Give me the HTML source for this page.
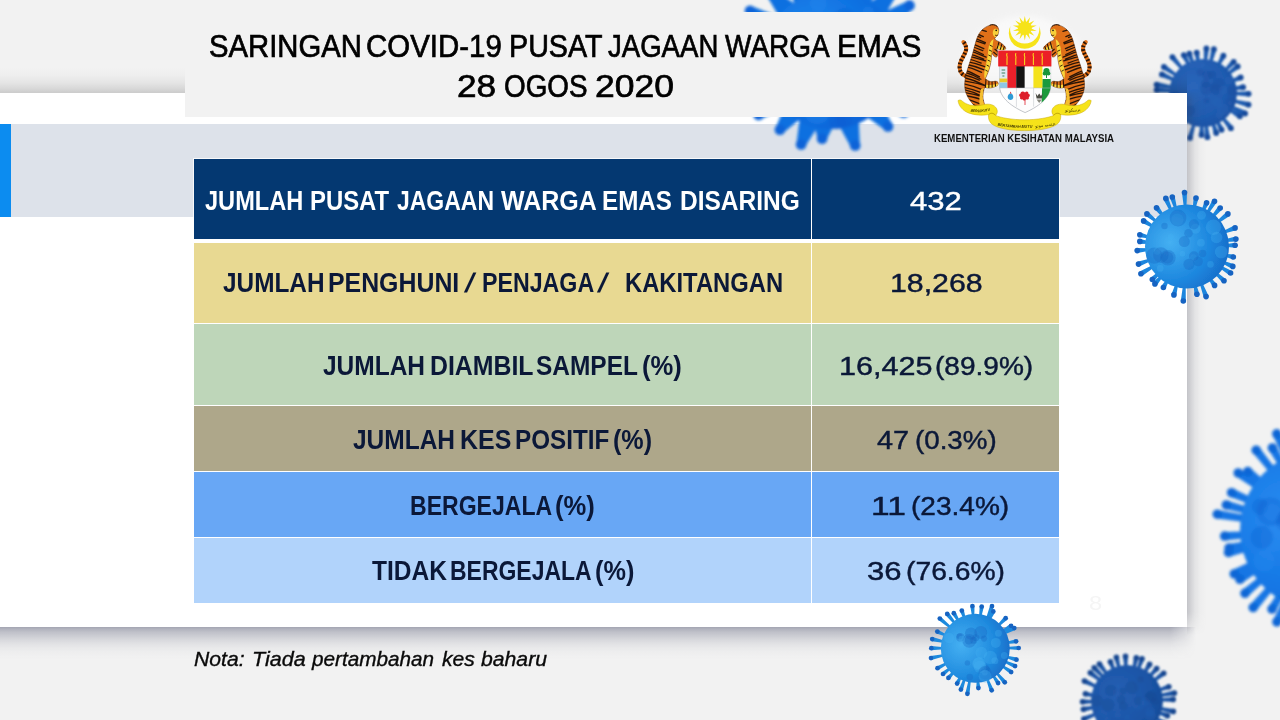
<!DOCTYPE html>
<html lang="ms">
<head>
<meta charset="utf-8">
<title>Saringan COVID-19 Pusat Jagaan Warga Emas - 28 Ogos 2020</title>
<style>
*{box-sizing:border-box}
html,body{margin:0;padding:0}
body{width:1280px;height:720px;overflow:hidden;background:#f2f2f2;font-family:'Liberation Sans', sans-serif;position:relative}
.abs{position:absolute}
.t{position:absolute;white-space:pre;line-height:1;transform-origin:0 50%;display:block}
#card{left:-30px;top:93px;width:1217px;height:534px;background:#fff;z-index:2}
#shT{left:0;top:67px;width:1187px;height:26px;z-index:2;background:linear-gradient(to top,rgba(0,0,0,.16) 0,rgba(0,0,0,.10) 5px,rgba(0,0,0,.05) 11px,rgba(0,0,0,.017) 18px,rgba(0,0,0,0) 26px)}
#shB{left:0;top:627px;width:1200px;height:33px;z-index:2;background:linear-gradient(to bottom,rgba(72,76,104,.47) 0,rgba(72,76,104,.38) 2px,rgba(72,76,104,.30) 5px,rgba(72,76,104,.20) 10px,rgba(72,76,104,.12) 15px,rgba(72,76,104,.06) 20px,rgba(72,76,104,.018) 26px,rgba(72,76,104,0) 33px);-webkit-mask-image:linear-gradient(to right,#000 0,#000 1170px,rgba(0,0,0,.55) 1184px,transparent 1196px);mask-image:linear-gradient(to right,#000 0,#000 1170px,rgba(0,0,0,.55) 1184px,transparent 1196px)}
#shR{left:1187px;top:90px;width:19px;height:545px;z-index:2;background:linear-gradient(to right,rgba(60,62,80,.26) 0,rgba(60,62,80,.17) 4px,rgba(60,62,80,.08) 8px,rgba(60,62,80,.027) 13px,rgba(60,62,80,0) 19px);-webkit-mask-image:linear-gradient(to bottom,transparent 0,#000 10px,#000 522px,rgba(0,0,0,.5) 535px,transparent 545px);mask-image:linear-gradient(to bottom,transparent 0,#000 10px,#000 522px,rgba(0,0,0,.5) 535px,transparent 545px)}
#band{left:0;top:124px;width:1187px;height:93px;background:#dde2ea;z-index:3}
#bar{left:0;top:124px;width:11px;height:93px;background:#0c8cf0;z-index:4}
#title{left:185px;top:12px;width:762px;height:105px;background:#f2f2f2;z-index:6}
#tbl{left:194px;top:159px;width:865px;height:444px;z-index:7;background:#fff;box-shadow:0 0 0 1px rgba(255,255,255,.75)}
.row{position:absolute;left:0;width:865px}
.c1,.c2{position:absolute;top:0;height:100%}
.c1{left:0;width:617px}
.c2{left:618px;width:247px}
#txt{left:0;top:0;width:1280px;height:720px;z-index:9}
</style>
</head>
<body>
<svg class="abs" style="left:0;top:0;z-index:1" width="1280" height="720" viewBox="0 0 1280 720" aria-hidden="true"><defs><radialGradient id="gb" cx="0.36" cy="0.4" r="0.8"><stop offset="0" stop-color="#2a66ba"/><stop offset="0.6" stop-color="#1f5bb0"/><stop offset="1" stop-color="#184c9c"/></radialGradient><filter id="blb" x="-20%" y="-20%" width="140%" height="140%"><feGaussianBlur stdDeviation="1.0"/></filter></defs><g filter="url(#blb)">
<path d="M1233.6 92.1L1248.6 91.2L1248.5 96.4L1233.6 95.0ZM1233.0 99.2L1249.2 102.1L1247.9 107.2L1232.3 102.0ZM1231.1 105.1L1246.3 111.1L1244.0 115.8L1229.9 107.7ZM1229.6 108.1L1241.3 114.1L1238.5 118.5L1228.1 110.5ZM1223.1 116.1L1233.0 126.6L1228.9 129.8L1220.9 117.9ZM1218.1 119.7L1223.9 128.6L1219.2 130.9L1215.5 121.0ZM1213.9 121.6L1218.7 132.2L1213.7 133.8L1211.2 122.5ZM1207.4 123.3L1210.0 136.9L1204.8 137.5L1204.6 123.6ZM1203.3 123.6L1204.1 135.0L1198.9 134.8L1200.4 123.5ZM1195.8 122.8L1192.4 138.7L1187.4 137.2L1193.1 122.0ZM1187.9 119.7L1183.1 129.5L1178.7 126.8L1185.5 118.2ZM1182.6 115.9L1175.9 124.4L1172.2 120.8L1180.6 113.9ZM1178.8 111.7L1170.7 118.8L1167.7 114.6L1177.1 109.4ZM1176.6 108.6L1163.2 117.1L1160.7 112.5L1175.3 106.1ZM1173.7 102.0L1163.0 105.9L1161.8 100.8L1173.0 99.2ZM1172.4 92.4L1156.4 92.5L1156.8 87.3L1172.6 89.5ZM1172.6 88.9L1156.2 87.1L1157.1 82.0L1173.2 86.1ZM1174.5 81.7L1160.8 76.8L1162.9 72.0L1175.7 79.1ZM1176.7 77.2L1162.4 69.1L1165.3 64.8L1178.3 74.9ZM1182.0 70.7L1170.4 58.8L1174.4 55.4L1184.2 68.8ZM1187.9 66.3L1181.5 56.3L1186.1 53.9L1190.5 65.1ZM1191.6 64.6L1186.9 54.6L1191.8 52.9L1194.3 63.6ZM1196.9 63.0L1194.2 53.0L1199.3 52.2L1199.7 62.5ZM1203.9 62.4L1203.8 48.3L1209.0 48.7L1206.8 62.6ZM1209.0 63.0L1211.4 48.6L1216.5 49.8L1211.8 63.7ZM1216.4 65.5L1221.2 54.4L1225.7 56.9L1219.0 66.8ZM1223.4 70.2L1231.8 60.0L1235.6 63.6L1225.5 72.2ZM1226.4 73.2L1236.2 64.3L1239.3 68.4L1228.2 75.5ZM1230.8 80.0L1239.7 75.1L1241.7 79.9L1231.8 82.7ZM1233.1 87.2L1242.8 84.6L1243.5 89.8L1233.5 90.1Z" fill="#1f5bb0"/>
<g fill="#184c9c"><circle cx="1248.6" cy="93.8" r="2.91"/><circle cx="1248.5" cy="104.7" r="2.91"/><circle cx="1245.1" cy="113.5" r="2.91"/><circle cx="1239.9" cy="116.3" r="2.91"/><circle cx="1230.9" cy="128.2" r="2.91"/><circle cx="1221.6" cy="129.8" r="2.91"/><circle cx="1216.2" cy="133.0" r="2.91"/><circle cx="1207.4" cy="137.2" r="2.91"/><circle cx="1201.5" cy="134.9" r="2.91"/><circle cx="1189.9" cy="137.9" r="2.91"/><circle cx="1180.9" cy="128.2" r="2.91"/><circle cx="1174.1" cy="122.6" r="2.91"/><circle cx="1169.2" cy="116.7" r="2.91"/><circle cx="1161.9" cy="114.8" r="2.91"/><circle cx="1162.4" cy="103.4" r="2.91"/><circle cx="1156.6" cy="89.9" r="2.91"/><circle cx="1156.6" cy="84.6" r="2.91"/><circle cx="1161.9" cy="74.4" r="2.91"/><circle cx="1163.9" cy="67.0" r="2.91"/><circle cx="1172.4" cy="57.1" r="2.91"/><circle cx="1183.8" cy="55.1" r="2.91"/><circle cx="1189.4" cy="53.7" r="2.91"/><circle cx="1196.7" cy="52.6" r="2.91"/><circle cx="1206.4" cy="48.5" r="2.91"/><circle cx="1213.9" cy="49.2" r="2.91"/><circle cx="1223.4" cy="55.7" r="2.91"/><circle cx="1233.7" cy="61.8" r="2.91"/><circle cx="1237.7" cy="66.4" r="2.91"/><circle cx="1240.7" cy="77.5" r="2.91"/><circle cx="1243.1" cy="87.2" r="2.91"/></g>
<circle cx="1203" cy="93" r="34" fill="url(#gb)"/>
<circle cx="1203.0" cy="65.4" r="2.5" fill="#2a66ba" opacity="0.32"/><circle cx="1207.3" cy="75.3" r="4.9" fill="#184c9c" opacity="0.32"/><circle cx="1209.5" cy="93.4" r="3.2" fill="#2a66ba" opacity="0.32"/><circle cx="1215.8" cy="89.3" r="5.7" fill="#184c9c" opacity="0.32"/><circle cx="1229.3" cy="80.5" r="3.9" fill="#2a66ba" opacity="0.32"/><circle cx="1189.7" cy="110.2" r="5.8" fill="#184c9c" opacity="0.32"/><circle cx="1223.2" cy="109.3" r="5.9" fill="#2a66ba" opacity="0.32"/><circle cx="1206.7" cy="88.6" r="6.6" fill="#184c9c" opacity="0.32"/><circle cx="1217.7" cy="102.5" r="5.1" fill="#2a66ba" opacity="0.32"/><circle cx="1218.2" cy="84.4" r="6.5" fill="#184c9c" opacity="0.32"/><circle cx="1186.9" cy="88.3" r="3.8" fill="#2a66ba" opacity="0.32"/><circle cx="1206.7" cy="100.5" r="3.0" fill="#184c9c" opacity="0.32"/><circle cx="1191.8" cy="65.2" r="3.1" fill="#2a66ba" opacity="0.32"/><circle cx="1231.5" cy="102.0" r="4.7" fill="#184c9c" opacity="0.32"/><circle cx="1190.9" cy="101.2" r="5.0" fill="#2a66ba" opacity="0.32"/><circle cx="1212.3" cy="75.0" r="4.2" fill="#184c9c" opacity="0.32"/><circle cx="1230.0" cy="102.9" r="2.5" fill="#2a66ba" opacity="0.32"/><circle cx="1175.5" cy="94.1" r="3.0" fill="#184c9c" opacity="0.32"/><circle cx="1199.6" cy="63.9" r="5.2" fill="#2a66ba" opacity="0.32"/><circle cx="1205.3" cy="83.5" r="4.3" fill="#184c9c" opacity="0.32"/><circle cx="1219.3" cy="115.3" r="3.7" fill="#2a66ba" opacity="0.32"/><circle cx="1174.3" cy="101.7" r="6.1" fill="#184c9c" opacity="0.32"/><circle cx="1223.0" cy="90.0" r="4.5" fill="#2a66ba" opacity="0.32"/><circle cx="1200.3" cy="72.4" r="3.7" fill="#184c9c" opacity="0.32"/><circle cx="1193.5" cy="99.5" r="4.0" fill="#2a66ba" opacity="0.32"/><circle cx="1232.3" cy="90.9" r="5.2" fill="#184c9c" opacity="0.32"/>
</g></svg>
<div id="shT" class="abs"></div><div id="shB" class="abs"></div><div id="shR" class="abs"></div>
<div id="card" class="abs"></div>
<div id="band" class="abs"></div>
<div id="bar" class="abs"></div>
<svg class="abs" style="left:0;top:0;z-index:5" width="1280" height="720" viewBox="0 0 1280 720" aria-hidden="true"><defs><radialGradient id="ga" cx="0.36" cy="0.4" r="0.8"><stop offset="0" stop-color="#2a8cf0"/><stop offset="0.6" stop-color="#0b6fe0"/><stop offset="1" stop-color="#0a5ad0"/></radialGradient><filter id="bla" x="-20%" y="-20%" width="140%" height="140%"><feGaussianBlur stdDeviation="1.8"/></filter><radialGradient id="gd" cx="0.3" cy="0.4" r="0.8"><stop offset="0" stop-color="#2a8cf0"/><stop offset="0.6" stop-color="#1276e4"/><stop offset="1" stop-color="#0b5ccc"/></radialGradient><filter id="bld" x="-20%" y="-20%" width="140%" height="140%"><feGaussianBlur stdDeviation="1.7"/></filter><radialGradient id="gf" cx="0.36" cy="0.4" r="0.8"><stop offset="0" stop-color="#2660b4"/><stop offset="0.6" stop-color="#1a54a6"/><stop offset="1" stop-color="#154690"/></radialGradient><filter id="blf" x="-20%" y="-20%" width="140%" height="140%"><feGaussianBlur stdDeviation="0.8"/></filter></defs><g filter="url(#bla)">
<path d="M880.1 100.2L891.7 123.4L884.4 129.5L863.4 114.4ZM858.6 116.9L859.8 144.2L850.6 146.7L837.6 122.8ZM835.0 123.0L826.8 139.3L817.4 138.1L813.3 120.4ZM820.7 122.1L805.5 146.1L796.6 142.9L800.2 114.7ZM803.3 116.4L783.7 132.6L776.1 126.9L785.8 103.4ZM788.5 106.1L761.5 118.7L755.8 111.1L775.3 88.6ZM776.9 91.5L747.4 95.7L744.1 86.7L769.4 71.0ZM769.8 73.1L738.5 68.0L738.1 58.5L769.1 51.2ZM768.7 54.5L741.2 40.7L743.6 31.5L774.3 33.4ZM772.7 37.2L747.6 14.7L752.5 6.6L784.0 18.5ZM781.8 21.2L765.6 -6.1L772.6 -12.5L798.1 6.5ZM795.4 8.3L787.8 -22.5L796.4 -26.5L815.2 -0.9ZM812.0 0.0L813.8 -31.7L823.2 -33.0L833.7 -3.0ZM831.5 -3.1L843.0 -32.7L852.4 -31.0L853.0 0.7ZM850.0 -0.3L869.6 -25.2L878.1 -20.9L869.4 9.6ZM864.9 6.5L890.4 -12.5L897.4 -6.1L881.2 21.2ZM876.1 15.4L906.8 1.5L912.2 9.3L888.6 33.3ZM885.0 26.6L917.1 20.3L920.7 29.1L893.2 46.9ZM891.5 40.5L922.2 42.5L923.5 51.9L894.5 62.2ZM894.5 57.8L923.5 68.1L922.2 77.5L891.5 79.5ZM892.7 75.3L916.8 92.8L912.9 101.5L883.8 95.2ZM888.2 87.7L906.5 108.6L900.9 116.3L875.3 105.3Z" fill="#0b6fe0"/>
<g fill="#0b63d8"><circle cx="888.0" cy="126.4" r="5.32"/><circle cx="855.2" cy="145.4" r="5.32"/><circle cx="822.1" cy="138.7" r="5.32"/><circle cx="801.1" cy="144.5" r="5.32"/><circle cx="779.9" cy="129.7" r="5.32"/><circle cx="758.6" cy="114.9" r="5.32"/><circle cx="745.8" cy="91.2" r="5.32"/><circle cx="738.3" cy="63.3" r="5.32"/><circle cx="742.4" cy="36.1" r="5.32"/><circle cx="750.0" cy="10.7" r="5.32"/><circle cx="769.1" cy="-9.3" r="5.32"/><circle cx="792.1" cy="-24.5" r="5.32"/><circle cx="818.5" cy="-32.3" r="5.32"/><circle cx="847.7" cy="-31.8" r="5.32"/><circle cx="873.8" cy="-23.1" r="5.32"/><circle cx="893.9" cy="-9.3" r="5.32"/><circle cx="909.5" cy="5.4" r="5.32"/><circle cx="918.9" cy="24.7" r="5.32"/><circle cx="922.9" cy="47.2" r="5.32"/><circle cx="922.9" cy="72.8" r="5.32"/><circle cx="914.9" cy="97.1" r="5.32"/><circle cx="903.7" cy="112.5" r="5.32"/></g>
<circle cx="831.5" cy="60" r="69" fill="url(#ga)"/>
<circle cx="834.9" cy="104.8" r="8.1" fill="#2a8cf0" opacity="0.32"/><circle cx="793.2" cy="30.7" r="5.4" fill="#0a5ad0" opacity="0.32"/><circle cx="887.1" cy="64.6" r="7.2" fill="#2a8cf0" opacity="0.32"/><circle cx="837.5" cy="120.5" r="9.0" fill="#0a5ad0" opacity="0.32"/><circle cx="853.2" cy="24.0" r="10.6" fill="#2a8cf0" opacity="0.32"/><circle cx="859.9" cy="99.4" r="12.6" fill="#0a5ad0" opacity="0.32"/><circle cx="779.6" cy="52.4" r="10.9" fill="#2a8cf0" opacity="0.32"/><circle cx="880.3" cy="80.8" r="10.1" fill="#0a5ad0" opacity="0.32"/><circle cx="828.1" cy="70.2" r="12.6" fill="#2a8cf0" opacity="0.32"/><circle cx="780.6" cy="68.8" r="12.7" fill="#0a5ad0" opacity="0.32"/><circle cx="818.4" cy="3.0" r="8.4" fill="#2a8cf0" opacity="0.32"/><circle cx="844.3" cy="21.4" r="13.2" fill="#0a5ad0" opacity="0.32"/><circle cx="845.3" cy="46.9" r="6.0" fill="#2a8cf0" opacity="0.32"/><circle cx="843.8" cy="118.6" r="8.7" fill="#0a5ad0" opacity="0.32"/><circle cx="808.1" cy="36.1" r="9.4" fill="#2a8cf0" opacity="0.32"/><circle cx="804.3" cy="83.7" r="10.1" fill="#0a5ad0" opacity="0.32"/><circle cx="781.5" cy="30.7" r="10.9" fill="#2a8cf0" opacity="0.32"/><circle cx="882.4" cy="35.7" r="13.7" fill="#0a5ad0" opacity="0.32"/><circle cx="819.8" cy="38.3" r="12.5" fill="#2a8cf0" opacity="0.32"/><circle cx="888.0" cy="47.2" r="9.9" fill="#0a5ad0" opacity="0.32"/><circle cx="825.2" cy="32.7" r="12.3" fill="#2a8cf0" opacity="0.32"/><circle cx="802.4" cy="45.5" r="5.4" fill="#0a5ad0" opacity="0.32"/><circle cx="868.3" cy="11.8" r="5.6" fill="#2a8cf0" opacity="0.32"/><circle cx="843.7" cy="22.9" r="6.2" fill="#0a5ad0" opacity="0.32"/><circle cx="817.0" cy="111.4" r="12.7" fill="#2a8cf0" opacity="0.32"/><circle cx="877.4" cy="73.1" r="5.2" fill="#0a5ad0" opacity="0.32"/>
</g><g filter="url(#bld)">
<path d="M1392.1 530.9L1426.0 532.0L1425.5 540.5L1391.7 537.7ZM1391.3 540.8L1411.5 544.0L1409.9 552.3L1389.9 547.5ZM1389.8 547.9L1414.7 554.7L1412.2 562.8L1387.8 554.4ZM1386.8 557.1L1406.4 565.2L1402.9 572.9L1383.9 563.3ZM1383.9 563.3L1406.9 575.8L1402.6 583.1L1380.5 569.2ZM1378.3 572.3L1399.4 588.1L1394.1 594.7L1374.1 577.6ZM1373.1 578.8L1388.1 592.8L1382.1 598.8L1368.2 583.6ZM1360.0 589.9L1374.1 611.6L1366.8 615.9L1354.2 593.4ZM1352.9 594.1L1366.3 621.7L1358.6 625.2L1346.7 597.0ZM1344.9 597.6L1351.7 616.6L1343.6 619.1L1338.4 599.7ZM1330.8 601.3L1334.6 629.4L1326.1 630.3L1324.0 602.0ZM1321.8 602.1L1322.0 630.9L1313.5 630.7L1315.0 601.9ZM1308.4 601.1L1304.1 625.6L1295.8 623.9L1301.8 599.7ZM1300.4 599.4L1293.4 623.3L1285.3 620.6L1294.0 597.2ZM1292.5 596.6L1280.8 623.7L1273.1 620.1L1286.4 593.7ZM1285.6 593.3L1275.6 611.3L1268.4 606.9L1279.7 589.8ZM1275.6 586.8L1256.5 610.4L1250.0 604.8L1270.5 582.4ZM1267.2 579.1L1247.7 596.6L1242.3 590.1L1262.8 573.9ZM1260.4 570.6L1242.1 582.9L1237.7 575.6L1256.9 564.8ZM1257.5 565.8L1236.3 577.6L1232.4 570.1L1254.4 559.8ZM1250.9 550.5L1229.5 556.7L1227.5 548.4L1249.3 543.9ZM1250.1 547.4L1229.9 552.3L1228.2 544.0L1248.7 540.7ZM1248.4 538.0L1225.0 540.4L1224.4 531.9L1247.9 531.2ZM1248.3 522.4L1216.6 518.4L1217.9 510.0L1249.4 515.7ZM1249.6 514.6L1225.3 509.0L1227.5 500.8L1251.3 508.1ZM1252.3 505.2L1229.9 496.7L1233.2 488.8L1255.0 498.9ZM1259.0 491.5L1235.8 476.3L1240.7 469.4L1262.9 486.0ZM1261.9 487.4L1245.1 474.9L1250.5 468.3L1266.2 482.1ZM1272.4 475.9L1252.9 452.8L1259.5 447.5L1277.7 471.6ZM1281.0 469.4L1268.7 450.0L1276.1 445.8L1286.8 466.0ZM1287.4 465.7L1272.9 435.5L1280.7 432.0L1293.6 462.9ZM1297.3 461.6L1287.4 429.2L1295.6 426.9L1303.9 459.7ZM1303.1 459.9L1295.8 426.3L1304.2 424.7L1309.8 458.6ZM1312.1 458.3L1309.7 432.8L1318.2 432.2L1318.9 457.9ZM1322.1 458.0L1323.7 426.2L1332.1 426.8L1328.9 458.5ZM1338.8 460.4L1348.6 427.5L1356.7 430.1L1345.3 462.5ZM1349.6 464.3L1364.3 433.7L1371.9 437.5L1355.7 467.4ZM1356.4 467.8L1374.5 438.3L1381.7 443.0L1362.1 471.5ZM1366.5 474.9L1382.6 456.4L1388.9 462.1L1371.5 479.6ZM1375.4 483.8L1394.8 468.0L1400.0 474.8L1379.5 489.3ZM1376.9 485.7L1393.1 473.3L1398.0 480.2L1380.8 491.3ZM1383.9 496.7L1403.8 486.6L1407.3 494.3L1386.8 502.9ZM1389.4 510.6L1422.4 502.2L1424.3 510.5L1390.9 517.2ZM1390.2 513.6L1410.5 509.0L1412.0 517.3L1391.4 520.3Z" fill="#1276e4"/>
<g fill="#0f66d6"><circle cx="1425.8" cy="536.3" r="4.76"/><circle cx="1410.7" cy="548.2" r="4.76"/><circle cx="1413.5" cy="558.8" r="4.76"/><circle cx="1404.6" cy="569.1" r="4.76"/><circle cx="1404.7" cy="579.4" r="4.76"/><circle cx="1396.7" cy="591.4" r="4.76"/><circle cx="1385.1" cy="595.8" r="4.76"/><circle cx="1370.4" cy="613.8" r="4.76"/><circle cx="1362.5" cy="623.4" r="4.76"/><circle cx="1347.7" cy="617.8" r="4.76"/><circle cx="1330.3" cy="629.8" r="4.76"/><circle cx="1317.8" cy="630.8" r="4.76"/><circle cx="1300.0" cy="624.7" r="4.76"/><circle cx="1289.3" cy="622.0" r="4.76"/><circle cx="1276.9" cy="621.9" r="4.76"/><circle cx="1272.0" cy="609.1" r="4.76"/><circle cx="1253.2" cy="607.6" r="4.76"/><circle cx="1245.0" cy="593.3" r="4.76"/><circle cx="1239.9" cy="579.3" r="4.76"/><circle cx="1234.3" cy="573.9" r="4.76"/><circle cx="1228.5" cy="552.5" r="4.76"/><circle cx="1229.0" cy="548.1" r="4.76"/><circle cx="1224.7" cy="536.1" r="4.76"/><circle cx="1217.3" cy="514.2" r="4.76"/><circle cx="1226.4" cy="504.9" r="4.76"/><circle cx="1231.6" cy="492.7" r="4.76"/><circle cx="1238.2" cy="472.9" r="4.76"/><circle cx="1247.8" cy="471.6" r="4.76"/><circle cx="1256.2" cy="450.2" r="4.76"/><circle cx="1272.4" cy="447.9" r="4.76"/><circle cx="1276.8" cy="433.8" r="4.76"/><circle cx="1291.5" cy="428.0" r="4.76"/><circle cx="1300.0" cy="425.5" r="4.76"/><circle cx="1313.9" cy="432.5" r="4.76"/><circle cx="1327.9" cy="426.5" r="4.76"/><circle cx="1352.6" cy="428.8" r="4.76"/><circle cx="1368.1" cy="435.6" r="4.76"/><circle cx="1378.1" cy="440.7" r="4.76"/><circle cx="1385.8" cy="459.2" r="4.76"/><circle cx="1397.4" cy="471.4" r="4.76"/><circle cx="1395.5" cy="476.8" r="4.76"/><circle cx="1405.6" cy="490.4" r="4.76"/><circle cx="1423.3" cy="506.3" r="4.76"/><circle cx="1411.3" cy="513.2" r="4.76"/></g>
<circle cx="1320" cy="530" r="80" fill="url(#gd)"/>
<circle cx="1291.4" cy="524.7" r="11.3" fill="#2a8cf0" opacity="0.32"/><circle cx="1333.7" cy="497.2" r="10.0" fill="#0b5ccc" opacity="0.32"/><circle cx="1358.3" cy="502.5" r="9.2" fill="#2a8cf0" opacity="0.32"/><circle cx="1369.7" cy="490.1" r="14.9" fill="#0b5ccc" opacity="0.32"/><circle cx="1302.7" cy="488.0" r="12.8" fill="#2a8cf0" opacity="0.32"/><circle cx="1347.2" cy="480.5" r="8.1" fill="#0b5ccc" opacity="0.32"/><circle cx="1307.3" cy="573.4" r="13.6" fill="#2a8cf0" opacity="0.32"/><circle cx="1270.9" cy="511.6" r="14.2" fill="#0b5ccc" opacity="0.32"/><circle cx="1363.6" cy="565.4" r="9.1" fill="#2a8cf0" opacity="0.32"/><circle cx="1259.9" cy="506.5" r="8.2" fill="#0b5ccc" opacity="0.32"/><circle cx="1338.9" cy="524.1" r="11.4" fill="#2a8cf0" opacity="0.32"/><circle cx="1286.9" cy="521.1" r="11.4" fill="#0b5ccc" opacity="0.32"/><circle cx="1273.4" cy="538.7" r="13.1" fill="#2a8cf0" opacity="0.32"/><circle cx="1363.4" cy="531.1" r="13.8" fill="#0b5ccc" opacity="0.32"/><circle cx="1361.3" cy="581.2" r="7.7" fill="#2a8cf0" opacity="0.32"/><circle cx="1307.7" cy="503.3" r="10.3" fill="#0b5ccc" opacity="0.32"/><circle cx="1302.1" cy="539.5" r="12.9" fill="#2a8cf0" opacity="0.32"/><circle cx="1261.8" cy="537.3" r="11.2" fill="#0b5ccc" opacity="0.32"/><circle cx="1271.9" cy="512.4" r="8.7" fill="#2a8cf0" opacity="0.32"/><circle cx="1336.7" cy="517.7" r="14.7" fill="#0b5ccc" opacity="0.32"/><circle cx="1352.6" cy="492.3" r="13.7" fill="#2a8cf0" opacity="0.32"/><circle cx="1294.5" cy="481.3" r="8.6" fill="#0b5ccc" opacity="0.32"/><circle cx="1302.3" cy="567.8" r="8.7" fill="#2a8cf0" opacity="0.32"/><circle cx="1360.0" cy="519.7" r="9.6" fill="#0b5ccc" opacity="0.32"/><circle cx="1264.1" cy="560.9" r="10.6" fill="#2a8cf0" opacity="0.32"/><circle cx="1286.3" cy="518.2" r="8.5" fill="#0b5ccc" opacity="0.32"/>
</g><g filter="url(#blf)">
<path d="M1159.3 698.5L1173.1 696.9L1173.3 701.9L1159.4 701.3ZM1158.9 706.8L1173.8 709.0L1172.7 713.9L1158.3 709.5ZM1157.9 710.8L1168.3 713.3L1166.6 718.0L1157.0 713.4ZM1155.5 716.5L1165.1 720.9L1162.6 725.2L1154.1 718.8ZM1150.2 723.7L1157.7 730.2L1154.1 733.6L1148.1 725.6ZM1146.0 727.3L1152.8 735.4L1148.6 738.1L1143.7 728.8ZM1141.5 730.0L1147.5 740.5L1142.9 742.6L1139.0 731.1ZM1133.2 732.8L1136.3 745.8L1131.3 746.6L1130.5 733.2ZM1130.6 733.2L1132.4 744.1L1127.4 744.4L1127.8 733.4ZM1123.6 733.3L1122.5 748.4L1117.6 747.7L1120.9 732.8ZM1114.6 731.0L1109.4 744.8L1104.8 742.7L1112.1 729.8ZM1108.9 727.9L1101.3 740.1L1097.3 737.1L1106.7 726.3ZM1103.6 723.5L1093.4 734.0L1090.1 730.2L1101.8 721.4ZM1101.5 721.0L1089.9 730.7L1087.0 726.6L1099.9 718.8ZM1097.6 714.7L1084.8 721.3L1082.9 716.7L1096.6 712.2ZM1095.4 708.4L1083.8 711.7L1082.9 706.8L1094.9 705.7ZM1094.6 703.0L1082.6 704.3L1082.5 699.3L1094.6 700.2ZM1094.8 696.9L1085.0 696.3L1085.8 691.4L1095.3 694.2ZM1097.1 688.5L1083.3 683.3L1085.4 678.8L1098.2 686.0ZM1100.5 682.3L1088.8 674.7L1091.9 670.8L1102.2 680.1ZM1103.3 678.9L1092.4 669.5L1096.0 666.0L1105.2 677.0ZM1106.5 675.8L1097.4 665.4L1101.4 662.5L1108.8 674.2ZM1113.1 671.7L1108.1 662.7L1112.7 660.8L1115.6 670.6ZM1118.0 669.8L1113.9 657.8L1118.8 656.6L1120.7 669.2ZM1124.5 668.7L1123.0 656.5L1128.0 656.3L1127.3 668.6ZM1132.4 669.0L1133.8 657.3L1138.7 658.3L1135.1 669.6ZM1136.5 670.0L1139.7 657.9L1144.4 659.6L1139.1 670.9ZM1142.8 672.7L1147.4 663.0L1151.7 665.7L1145.2 674.1ZM1147.9 676.2L1154.9 666.9L1158.6 670.3L1149.9 678.1ZM1152.0 680.3L1162.2 671.2L1165.2 675.2L1153.7 682.5ZM1157.2 689.2L1168.0 684.4L1169.6 689.1L1158.1 691.8ZM1158.7 694.3L1174.0 690.6L1174.8 695.5L1159.2 697.0Z" fill="#1a54a6"/>
<g fill="#154690"><circle cx="1173.2" cy="699.4" r="2.80"/><circle cx="1173.3" cy="711.4" r="2.80"/><circle cx="1167.4" cy="715.7" r="2.80"/><circle cx="1163.9" cy="723.1" r="2.80"/><circle cx="1155.9" cy="731.9" r="2.80"/><circle cx="1150.7" cy="736.8" r="2.80"/><circle cx="1145.2" cy="741.6" r="2.80"/><circle cx="1133.8" cy="746.2" r="2.80"/><circle cx="1129.9" cy="744.2" r="2.80"/><circle cx="1120.0" cy="748.1" r="2.80"/><circle cx="1107.1" cy="743.7" r="2.80"/><circle cx="1099.3" cy="738.6" r="2.80"/><circle cx="1091.7" cy="732.1" r="2.80"/><circle cx="1088.5" cy="728.7" r="2.80"/><circle cx="1083.8" cy="719.0" r="2.80"/><circle cx="1083.4" cy="709.3" r="2.80"/><circle cx="1082.6" cy="701.8" r="2.80"/><circle cx="1085.4" cy="693.8" r="2.80"/><circle cx="1084.4" cy="681.1" r="2.80"/><circle cx="1090.3" cy="672.7" r="2.80"/><circle cx="1094.2" cy="667.7" r="2.80"/><circle cx="1099.4" cy="664.0" r="2.80"/><circle cx="1110.4" cy="661.8" r="2.80"/><circle cx="1116.4" cy="657.2" r="2.80"/><circle cx="1125.5" cy="656.4" r="2.80"/><circle cx="1136.3" cy="657.8" r="2.80"/><circle cx="1142.0" cy="658.7" r="2.80"/><circle cx="1149.6" cy="664.4" r="2.80"/><circle cx="1156.7" cy="668.6" r="2.80"/><circle cx="1163.7" cy="673.2" r="2.80"/><circle cx="1168.8" cy="686.7" r="2.80"/><circle cx="1174.4" cy="693.1" r="2.80"/></g>
<circle cx="1127" cy="701" r="36" fill="url(#gf)"/>
<circle cx="1138.5" cy="704.2" r="6.3" fill="#2660b4" opacity="0.32"/><circle cx="1140.4" cy="679.4" r="3.3" fill="#154690" opacity="0.32"/><circle cx="1101.6" cy="716.3" r="6.7" fill="#2660b4" opacity="0.32"/><circle cx="1131.7" cy="687.5" r="6.5" fill="#154690" opacity="0.32"/><circle cx="1108.0" cy="720.1" r="3.2" fill="#2660b4" opacity="0.32"/><circle cx="1151.3" cy="696.6" r="5.9" fill="#154690" opacity="0.32"/><circle cx="1133.0" cy="725.3" r="5.2" fill="#2660b4" opacity="0.32"/><circle cx="1111.0" cy="690.7" r="5.9" fill="#154690" opacity="0.32"/><circle cx="1117.6" cy="715.5" r="3.3" fill="#2660b4" opacity="0.32"/><circle cx="1122.7" cy="691.2" r="3.6" fill="#154690" opacity="0.32"/><circle cx="1150.1" cy="711.7" r="5.1" fill="#2660b4" opacity="0.32"/><circle cx="1121.0" cy="699.3" r="4.6" fill="#154690" opacity="0.32"/><circle cx="1121.7" cy="709.1" r="2.5" fill="#2660b4" opacity="0.32"/><circle cx="1138.1" cy="700.9" r="3.9" fill="#154690" opacity="0.32"/><circle cx="1124.1" cy="725.4" r="2.9" fill="#2660b4" opacity="0.32"/><circle cx="1108.1" cy="704.6" r="6.4" fill="#154690" opacity="0.32"/><circle cx="1145.4" cy="701.7" r="4.8" fill="#2660b4" opacity="0.32"/><circle cx="1149.4" cy="696.7" r="4.7" fill="#154690" opacity="0.32"/><circle cx="1118.6" cy="685.9" r="2.7" fill="#2660b4" opacity="0.32"/><circle cx="1096.7" cy="700.7" r="6.0" fill="#154690" opacity="0.32"/><circle cx="1125.6" cy="727.3" r="6.5" fill="#2660b4" opacity="0.32"/><circle cx="1125.7" cy="725.3" r="4.2" fill="#154690" opacity="0.32"/><circle cx="1127.6" cy="718.0" r="3.5" fill="#2660b4" opacity="0.32"/><circle cx="1123.3" cy="706.0" r="4.4" fill="#154690" opacity="0.32"/><circle cx="1150.7" cy="715.4" r="5.3" fill="#2660b4" opacity="0.32"/><circle cx="1155.0" cy="701.7" r="3.4" fill="#154690" opacity="0.32"/>
</g></svg>
<div id="title" class="abs"></div>
<div id="tbl" class="abs"><div class="row" style="top:0.0px;height:80.0px"><div class="c1" style="background:#043871"></div><div class="c2" style="background:#043871"></div></div><div class="row" style="top:84.0px;height:79.5px"><div class="c1" style="background:#e8d992"></div><div class="c2" style="background:#e8d992"></div></div><div class="row" style="top:164.5px;height:81.5px"><div class="c1" style="background:#bed6b9"></div><div class="c2" style="background:#bed6b9"></div></div><div class="row" style="top:246.7px;height:65.6px"><div class="c1" style="background:#aea78a"></div><div class="c2" style="background:#aea78a"></div></div><div class="row" style="top:313.0px;height:64.8px"><div class="c1" style="background:#68a7f5"></div><div class="c2" style="background:#68a7f5"></div></div><div class="row" style="top:378.6px;height:65.0px"><div class="c1" style="background:#b1d3fb"></div><div class="c2" style="background:#b1d3fb"></div></div></div>
<svg class="abs" style="left:0;top:0;z-index:8" width="1280" height="720" viewBox="0 0 1280 720" aria-hidden="true"><defs><radialGradient id="gc" cx="0.3" cy="0.45" r="0.8"><stop offset="0" stop-color="#45b0f2"/><stop offset="0.6" stop-color="#1c86de"/><stop offset="1" stop-color="#1664c2"/></radialGradient><filter id="blc" x="-20%" y="-20%" width="140%" height="140%"><feGaussianBlur stdDeviation="0.45"/></filter><radialGradient id="ge" cx="0.3" cy="0.45" r="0.8"><stop offset="0" stop-color="#45b0f2"/><stop offset="0.6" stop-color="#1f8ade"/><stop offset="1" stop-color="#1664c2"/></radialGradient><filter id="ble" x="-20%" y="-20%" width="140%" height="140%"><feGaussianBlur stdDeviation="0.45"/></filter></defs><g filter="url(#blc)">
<path d="M1224.8 244.3L1235.1 242.8L1235.2 247.8L1224.8 246.8ZM1224.1 253.7L1233.9 254.6L1232.8 259.5L1223.6 256.1ZM1222.2 260.4L1233.7 264.1L1231.8 268.7L1221.2 262.7ZM1219.9 265.1L1231.9 270.9L1229.3 275.2L1218.6 267.2ZM1215.6 271.2L1225.7 278.9L1222.3 282.6L1213.9 273.1ZM1209.9 276.6L1216.6 283.9L1212.6 286.8L1207.9 278.0ZM1201.7 281.4L1208.5 295.7L1203.8 297.5L1199.3 282.3ZM1195.9 283.3L1199.3 293.7L1194.5 294.7L1193.5 283.8ZM1185.7 284.3L1185.8 301.1L1180.8 300.8L1183.2 284.1ZM1178.3 283.3L1176.3 295.6L1171.5 294.3L1175.9 282.7ZM1169.2 279.9L1165.5 288.8L1161.2 286.3L1167.1 278.6ZM1163.3 276.0L1156.8 285.5L1153.0 282.3L1161.4 274.4ZM1160.4 273.4L1154.0 281.3L1150.5 277.7L1158.7 271.6ZM1155.1 266.8L1142.2 275.9L1139.6 271.6L1153.8 264.6ZM1151.9 260.6L1139.3 266.5L1137.6 261.8L1151.0 258.2ZM1149.4 250.8L1137.4 253.1L1137.0 248.1L1149.2 248.3ZM1149.3 243.7L1139.6 243.9L1140.1 238.9L1149.6 241.2ZM1150.0 238.6L1139.2 237.3L1140.4 232.4L1150.6 236.2ZM1153.8 228.4L1142.3 223.1L1144.8 218.8L1155.1 226.3ZM1156.9 223.6L1145.4 215.8L1148.5 211.9L1158.5 221.7ZM1162.7 217.5L1154.6 209.2L1158.5 206.1L1164.7 216.0ZM1170.6 212.4L1163.5 199.4L1168.1 197.4L1172.9 211.4ZM1175.0 210.6L1169.9 197.8L1174.7 196.4L1177.4 209.9ZM1184.0 208.8L1182.0 192.7L1187.0 192.4L1186.5 208.7ZM1192.7 209.1L1193.6 197.6L1198.5 198.5L1195.1 209.6ZM1201.3 211.5L1204.3 201.8L1208.9 203.8L1203.6 212.5ZM1205.6 213.5L1212.4 199.9L1216.7 202.5L1207.7 214.8ZM1210.7 217.1L1218.3 206.3L1222.1 209.6L1212.6 218.7ZM1215.8 222.0L1226.4 212.0L1229.5 215.9L1217.4 223.9ZM1221.8 231.7L1234.2 225.6L1236.0 230.3L1222.7 234.1ZM1224.2 239.6L1235.5 236.6L1236.3 241.6L1224.6 242.1Z" fill="#1c86de"/>
<g fill="#1664c2"><circle cx="1235.1" cy="245.3" r="2.80"/><circle cx="1233.3" cy="257.0" r="2.80"/><circle cx="1232.8" cy="266.4" r="2.80"/><circle cx="1230.6" cy="273.0" r="2.80"/><circle cx="1224.0" cy="280.7" r="2.80"/><circle cx="1214.6" cy="285.4" r="2.80"/><circle cx="1206.1" cy="296.6" r="2.80"/><circle cx="1196.9" cy="294.2" r="2.80"/><circle cx="1183.3" cy="301.0" r="2.80"/><circle cx="1173.9" cy="294.9" r="2.80"/><circle cx="1163.4" cy="287.5" r="2.80"/><circle cx="1154.9" cy="283.9" r="2.80"/><circle cx="1152.3" cy="279.5" r="2.80"/><circle cx="1140.9" cy="273.7" r="2.80"/><circle cx="1138.5" cy="264.1" r="2.80"/><circle cx="1137.2" cy="250.6" r="2.80"/><circle cx="1139.8" cy="241.4" r="2.80"/><circle cx="1139.8" cy="234.8" r="2.80"/><circle cx="1143.6" cy="220.9" r="2.80"/><circle cx="1146.9" cy="213.9" r="2.80"/><circle cx="1156.5" cy="207.7" r="2.80"/><circle cx="1165.8" cy="198.4" r="2.80"/><circle cx="1172.3" cy="197.1" r="2.80"/><circle cx="1184.5" cy="192.6" r="2.80"/><circle cx="1196.0" cy="198.1" r="2.80"/><circle cx="1206.6" cy="202.8" r="2.80"/><circle cx="1214.5" cy="201.2" r="2.80"/><circle cx="1220.2" cy="208.0" r="2.80"/><circle cx="1227.9" cy="213.9" r="2.80"/><circle cx="1235.1" cy="227.9" r="2.80"/><circle cx="1235.9" cy="239.1" r="2.80"/></g>
<circle cx="1187" cy="246.5" r="42" fill="url(#gc)"/>
<circle cx="1177.4" cy="219.6" r="6.1" fill="#45b0f2" opacity="0.32"/><circle cx="1154.3" cy="255.7" r="8.1" fill="#1664c2" opacity="0.32"/><circle cx="1157.2" cy="251.4" r="3.3" fill="#45b0f2" opacity="0.32"/><circle cx="1178.0" cy="218.0" r="8.4" fill="#1664c2" opacity="0.32"/><circle cx="1195.6" cy="228.7" r="5.0" fill="#45b0f2" opacity="0.32"/><circle cx="1184.3" cy="241.6" r="5.5" fill="#1664c2" opacity="0.32"/><circle cx="1193.3" cy="257.5" r="3.3" fill="#45b0f2" opacity="0.32"/><circle cx="1188.5" cy="233.2" r="4.3" fill="#1664c2" opacity="0.32"/><circle cx="1160.2" cy="268.4" r="3.4" fill="#45b0f2" opacity="0.32"/><circle cx="1160.9" cy="255.1" r="7.8" fill="#1664c2" opacity="0.32"/><circle cx="1201.5" cy="215.2" r="4.5" fill="#45b0f2" opacity="0.32"/><circle cx="1167.9" cy="257.8" r="7.8" fill="#1664c2" opacity="0.32"/><circle cx="1200.9" cy="242.7" r="3.9" fill="#45b0f2" opacity="0.32"/><circle cx="1189.0" cy="264.3" r="5.6" fill="#1664c2" opacity="0.32"/><circle cx="1170.9" cy="236.4" r="3.0" fill="#45b0f2" opacity="0.32"/><circle cx="1167.3" cy="257.5" r="6.0" fill="#1664c2" opacity="0.32"/><circle cx="1216.5" cy="237.5" r="5.8" fill="#45b0f2" opacity="0.32"/><circle cx="1164.5" cy="226.0" r="3.2" fill="#1664c2" opacity="0.32"/><circle cx="1213.4" cy="227.2" r="7.7" fill="#45b0f2" opacity="0.32"/><circle cx="1193.9" cy="224.3" r="5.1" fill="#1664c2" opacity="0.32"/><circle cx="1210.5" cy="264.4" r="3.3" fill="#45b0f2" opacity="0.32"/><circle cx="1202.5" cy="253.5" r="3.8" fill="#1664c2" opacity="0.32"/><circle cx="1182.4" cy="253.7" r="2.9" fill="#45b0f2" opacity="0.32"/><circle cx="1193.9" cy="256.1" r="4.9" fill="#1664c2" opacity="0.32"/><circle cx="1221.2" cy="252.0" r="6.3" fill="#45b0f2" opacity="0.32"/><circle cx="1198.1" cy="261.5" r="4.8" fill="#1664c2" opacity="0.32"/>
</g><g filter="url(#ble)">
<path d="M1006.3 647.0L1018.7 645.9L1018.7 650.1L1006.4 649.1ZM1005.5 655.5L1017.1 657.6L1016.0 661.7L1005.0 657.6ZM1004.1 660.0L1016.0 664.2L1014.3 668.0L1003.2 661.9ZM1001.8 664.6L1012.4 670.3L1010.1 673.8L1000.6 666.3ZM996.4 671.1L1006.4 680.9L1003.2 683.7L994.9 672.4ZM993.2 673.7L999.9 682.0L996.4 684.3L991.4 674.8ZM987.5 676.9L993.6 689.6L989.7 691.1L985.6 677.6ZM978.8 679.2L980.5 687.9L976.3 688.2L976.7 679.3ZM971.0 679.1L969.5 694.1L965.3 693.4L968.9 678.7ZM966.1 678.0L962.9 690.3L958.9 689.0L964.1 677.3ZM962.0 676.4L959.0 684.6L955.2 682.6L960.1 675.4ZM955.2 672.0L950.0 679.3L946.9 676.5L953.7 670.6ZM951.6 668.4L944.3 675.6L941.7 672.3L950.3 666.8ZM948.3 663.7L938.4 670.1L936.5 666.4L947.3 661.8ZM945.2 656.0L931.5 660.1L930.6 656.0L944.8 654.0ZM944.2 649.3L931.3 650.3L931.3 646.1L944.3 647.2ZM944.7 642.9L931.7 641.2L932.6 637.1L945.1 640.8ZM946.4 636.8L936.4 633.6L938.1 629.7L947.3 634.9ZM950.8 629.2L938.4 620.1L941.1 616.9L952.2 627.5ZM954.8 624.9L945.6 615.2L948.8 612.6L956.5 623.6ZM958.2 622.4L952.0 614.3L955.6 612.1L960.0 621.3ZM963.9 619.4L959.8 611.3L963.8 609.8L965.8 618.7ZM972.2 617.4L970.3 606.2L974.5 605.9L974.3 617.2ZM979.0 617.5L979.7 606.2L983.8 606.9L981.1 617.8ZM985.8 619.1L990.1 605.4L994.0 606.9L987.7 619.8ZM988.0 619.9L991.4 610.5L995.2 612.3L989.9 620.9ZM996.6 625.7L1004.2 616.7L1007.2 619.7L998.1 627.2ZM1001.0 630.9L1010.0 624.0L1012.2 627.6L1002.1 632.7ZM1002.4 633.1L1013.3 626.2L1015.2 630.0L1003.3 634.9ZM1005.7 642.0L1015.8 639.2L1016.5 643.3L1006.1 644.1Z" fill="#1f8ade"/>
<g fill="#1664c2"><circle cx="1018.7" cy="648.0" r="2.35"/><circle cx="1016.5" cy="659.7" r="2.35"/><circle cx="1015.1" cy="666.1" r="2.35"/><circle cx="1011.2" cy="672.1" r="2.35"/><circle cx="1004.8" cy="682.3" r="2.35"/><circle cx="998.1" cy="683.1" r="2.35"/><circle cx="991.7" cy="690.3" r="2.35"/><circle cx="978.4" cy="688.1" r="2.35"/><circle cx="967.4" cy="693.8" r="2.35"/><circle cx="960.9" cy="689.6" r="2.35"/><circle cx="957.1" cy="683.6" r="2.35"/><circle cx="948.4" cy="677.9" r="2.35"/><circle cx="943.0" cy="674.0" r="2.35"/><circle cx="937.5" cy="668.2" r="2.35"/><circle cx="931.0" cy="658.1" r="2.35"/><circle cx="931.3" cy="648.2" r="2.35"/><circle cx="932.2" cy="639.1" r="2.35"/><circle cx="937.3" cy="631.6" r="2.35"/><circle cx="939.8" cy="618.5" r="2.35"/><circle cx="947.2" cy="613.9" r="2.35"/><circle cx="953.8" cy="613.2" r="2.35"/><circle cx="961.8" cy="610.6" r="2.35"/><circle cx="972.4" cy="606.1" r="2.35"/><circle cx="981.7" cy="606.6" r="2.35"/><circle cx="992.0" cy="606.1" r="2.35"/><circle cx="993.3" cy="611.4" r="2.35"/><circle cx="1005.7" cy="618.2" r="2.35"/><circle cx="1011.1" cy="625.8" r="2.35"/><circle cx="1014.3" cy="628.1" r="2.35"/><circle cx="1016.1" cy="641.3" r="2.35"/></g>
<circle cx="975.3" cy="648.3" r="34.5" fill="url(#ge)"/>
<circle cx="990.3" cy="657.4" r="6.7" fill="#45b0f2" opacity="0.32"/><circle cx="975.8" cy="637.8" r="3.5" fill="#1664c2" opacity="0.32"/><circle cx="981.3" cy="652.7" r="6.0" fill="#45b0f2" opacity="0.32"/><circle cx="985.3" cy="668.8" r="4.4" fill="#1664c2" opacity="0.32"/><circle cx="984.8" cy="672.6" r="3.0" fill="#45b0f2" opacity="0.32"/><circle cx="968.9" cy="640.1" r="4.3" fill="#1664c2" opacity="0.32"/><circle cx="979.0" cy="663.7" r="6.8" fill="#45b0f2" opacity="0.32"/><circle cx="980.8" cy="632.4" r="6.4" fill="#1664c2" opacity="0.32"/><circle cx="980.0" cy="666.9" r="6.2" fill="#45b0f2" opacity="0.32"/><circle cx="969.2" cy="640.8" r="6.9" fill="#1664c2" opacity="0.32"/><circle cx="978.8" cy="663.4" r="5.9" fill="#45b0f2" opacity="0.32"/><circle cx="967.4" cy="662.9" r="2.7" fill="#1664c2" opacity="0.32"/><circle cx="994.9" cy="660.8" r="3.5" fill="#45b0f2" opacity="0.32"/><circle cx="960.4" cy="637.3" r="4.4" fill="#1664c2" opacity="0.32"/><circle cx="995.8" cy="642.9" r="5.0" fill="#45b0f2" opacity="0.32"/><circle cx="984.0" cy="638.6" r="3.1" fill="#1664c2" opacity="0.32"/><circle cx="998.4" cy="633.3" r="3.5" fill="#45b0f2" opacity="0.32"/><circle cx="985.0" cy="672.6" r="6.6" fill="#1664c2" opacity="0.32"/><circle cx="985.1" cy="676.3" r="6.4" fill="#45b0f2" opacity="0.32"/><circle cx="959.6" cy="636.3" r="2.9" fill="#1664c2" opacity="0.32"/><circle cx="1004.3" cy="655.5" r="3.5" fill="#45b0f2" opacity="0.32"/><circle cx="971.0" cy="633.5" r="6.1" fill="#1664c2" opacity="0.32"/><circle cx="961.7" cy="638.9" r="3.2" fill="#45b0f2" opacity="0.32"/><circle cx="973.8" cy="640.4" r="3.4" fill="#1664c2" opacity="0.32"/><circle cx="949.1" cy="638.0" r="5.2" fill="#45b0f2" opacity="0.32"/><circle cx="969.8" cy="677.0" r="3.3" fill="#1664c2" opacity="0.32"/>
</g></svg>
<svg class="abs" style="left:940px;top:0;z-index:8" width="170" height="140" viewBox="940 0 170 140" role="img" aria-label="Jata Negara Malaysia">
<defs><filter id="lgw" x="-20%" y="-20%" width="140%" height="140%"><feGaussianBlur stdDeviation="3"/></filter></defs>
<ellipse cx="1024.6" cy="68" rx="62" ry="52" fill="#fff" opacity=".55" filter="url(#lgw)"/>

<g>
 <path d="M1010.4 26 A15.9 15.9 0 1 0 1039 26 A14.6 14.6 0 1 1 1010.4 26 Z" fill="#f6e319"/>
 <polygon points="1024.80,16.00 1026.14,22.35 1030.09,17.21 1028.54,23.51 1034.34,20.59 1030.21,25.60 1036.69,25.49 1030.80,28.20 1036.69,30.91 1030.21,30.80 1034.34,35.81 1028.54,32.89 1030.09,39.19 1026.14,34.05 1024.80,40.40 1023.46,34.05 1019.51,39.19 1021.06,32.89 1015.26,35.81 1019.39,30.80 1012.91,30.91 1018.80,28.20 1012.91,25.49 1019.39,25.60 1015.26,20.59 1021.06,23.51 1019.51,17.21 1023.46,22.35" fill="#f6e319"/>
 <circle cx="1024.8" cy="28.2" r="6.8" fill="#f6e319"/>
</g>

<defs><clipPath id="tgc"><path d="M989.5 25.4 C992 24 995.5 24.6 997.4 26.6 C998.6 28 999 30 998.6 32 C998.2 34.6 996.6 37 994.6 38.2 L996 40.5 C998.5 41 1001.5 43 1004 45.6 C1005.6 47 1006.4 48.6 1005 49.6 C1002.6 50.4 999.4 49.6 996.8 48.4 C997.6 51 998 54 997.2 56.4 C996.4 57.6 994.6 57 993.4 55.6 C992.4 54.4 991.8 53 991.4 52 C991.8 56 991.2 61 990 66 C989 70.6 987 75 985.4 78.4 C987 80.6 990 82 993 81.6 C995 81.2 997 80.8 998 82.4 C998.8 84 997.6 85.8 995.4 86.6 C991.6 88.2 987.6 88.6 984.6 87.2 C983.4 90.6 982.8 94.6 983 98 C983.2 100.4 983.8 102 984.4 103.4 C984.6 104.8 983.4 105.6 981.4 105.6 L974 105.4 C971 102 967.6 98 965.8 92.6 C964 87 964.6 80 966.2 74 C967.8 67.4 970.6 60.4 972.6 53.6 C974.4 47.4 975.4 42 977.6 36.6 C980 31 984.4 27 989.5 25.4 Z"/></clipPath></defs>
<g id="tg">
 <path d="M966.4 76 C962.6 75.4 959.6 72 959.6 67 C959.6 61 964 56.4 965.8 51 C966.8 47.6 965.6 44.4 963.4 42" fill="none" stroke="#e07018" stroke-width="4" stroke-linecap="round"/>
 <path d="M966.4 76 C962.6 75.4 959.6 72 959.6 67 C959.6 61 964 56.4 965.8 51 C966.8 47.6 965.6 44.4 963.4 42" fill="none" stroke="#2a1508" stroke-width="4" stroke-dasharray="1.7 2"/>
 <path d="M989.5 25.4 C992 24 995.5 24.6 997.4 26.6 C998.6 28 999 30 998.6 32 C998.2 34.6 996.6 37 994.6 38.2 L996 40.5 C998.5 41 1001.5 43 1004 45.6 C1005.6 47 1006.4 48.6 1005 49.6 C1002.6 50.4 999.4 49.6 996.8 48.4 C997.6 51 998 54 997.2 56.4 C996.4 57.6 994.6 57 993.4 55.6 C992.4 54.4 991.8 53 991.4 52 C991.8 56 991.2 61 990 66 C989 70.6 987 75 985.4 78.4 C987 80.6 990 82 993 81.6 C995 81.2 997 80.8 998 82.4 C998.8 84 997.6 85.8 995.4 86.6 C991.6 88.2 987.6 88.6 984.6 87.2 C983.4 90.6 982.8 94.6 983 98 C983.2 100.4 983.8 102 984.4 103.4 C984.6 104.8 983.4 105.6 981.4 105.6 L974 105.4 C971 102 967.6 98 965.8 92.6 C964 87 964.6 80 966.2 74 C967.8 67.4 970.6 60.4 972.6 53.6 C974.4 47.4 975.4 42 977.6 36.6 C980 31 984.4 27 989.5 25.4 Z" fill="#e07018" stroke="#5a2a0a" stroke-width=".5"/>
 <g clip-path="url(#tgc)">
  <path d="M960.3 23.0 Q971.2 24.9 982.2 29.2M961.2 25.6 Q973.8 27.3 986.3 31.3M960.7 28.8 Q972.0 31.1 983.3 36.6M960.3 31.5 Q970.5 33.3 980.7 37.5M962.4 34.7 Q973.9 37.1 985.4 42.7M961.9 37.4 Q973.4 39.3 984.9 43.8M960.3 40.6 Q972.1 43.0 983.8 48.7M960.5 43.6 Q971.7 45.7 982.8 50.6M962.6 46.2 Q973.0 48.7 983.4 54.5M961.7 48.9 Q973.9 51.4 986.1 57.1M961.2 52.1 Q972.5 54.2 983.8 59.1M960.9 54.9 Q973.2 56.7 985.5 60.9M961.9 57.5 Q971.6 59.2 981.2 63.1M961.0 60.4 Q974.0 62.5 987.0 67.3M960.6 63.1 Q972.3 65.1 984.1 69.8M962.2 65.8 Q971.9 67.7 981.6 72.3M960.3 68.7 Q969.9 71.2 979.5 76.9M961.8 71.4 Q971.4 73.7 980.9 79.2M961.4 74.2 Q970.4 76.0 979.3 80.2M962.9 77.2 Q973.9 79.7 984.9 85.4M960.9 80.5 Q973.8 82.2 986.7 86.1M962.8 83.6 Q973.4 85.6 984.0 90.4M960.6 86.8 Q971.6 88.7 982.6 93.2M962.9 89.4 Q972.3 91.4 981.7 96.0M960.5 91.9 Q972.9 93.6 985.3 97.5M960.3 94.7 Q973.6 96.6 986.9 101.1M960.2 97.5 Q969.8 99.4 979.4 103.6M960.4 100.2 Q969.9 102.4 979.3 107.7M963.0 103.0 Q971.5 104.9 980.0 109.3" stroke="#2a1508" stroke-width="1.3" stroke-linecap="round" fill="none"/>
  <!-- yellow chest / belly / inner legs -->
  <path d="M993.6 39 C992.6 44 992.4 49 992 53 C991.6 59 990.4 65 988.6 70 C987.4 73.4 986 76.4 985 79 C983.6 76 984.4 70 985.8 65 C987.4 59.6 988 54 988.4 49 C988.8 45 990.4 41 993.6 39 Z" fill="#f8d43a"/>
  <path d="M994.4 29 C996.4 28.4 998.2 29.4 998.8 31 C999 33.4 998 35.8 996 37.4 C994.2 37 993 35.4 992.8 33.4 C992.6 31.600 993.2 30 994.4 29 Z" fill="#f7cf3a"/>
  <path d="M984 88 C983 92 982.6 96 983 100 C983.2 102 984 104 984.600 105.600 L979.6 105.600 C979 100 979.6 94 981 89 Z" fill="#f5bf30"/>
  <path d="M986 84.400 C990 85.400 994 84.800 998 83.400 L998 87 C994 88.600 989 88.800 985.600 87.600 Z" fill="#f8d43a"/>
  <path d="M997 44.600 C1000 45.600 1003 47.400 1005.600 49.400 L1004 50.400 C1001 50.200 998.600 49.400 996.600 48.400 Z" fill="#f8d43a"/>
  <path d="M986 79 l-.6 9 M989 80 l-.2 9 M992 80 l.2 8 M995 80 l.6 7 M999 42 l-2 7 M1002 43.6 l-2 7 M1004.6 45.6 l-1.6 5 M994.6 49 l3.6 3 M993.4 52 l4 3.4" stroke="#2a1508" stroke-width="1.1" fill="none"/>
  <path d="M989.6 45 l3 1.6 M989 50 l3 1.400 M988.400 55 l3 1.400 M987.600 60 l2.800 1.400 M986.600 65 l2.600 1.400 M985.400 70 l2.400 1.400" stroke="#2a1508" stroke-width=".9" fill="none"/>
 </g>
 <circle cx="996.2" cy="30.4" r=".8" fill="#111"/>
 <path d="M995 35 C996 35.800 997.400 35.600 998.200 34.600" stroke="#3a1208" stroke-width=".9" fill="none"/>
 <path d="M989.5 25.4 C992 24 995.5 24.6 997.4 26.6" stroke="#2a1508" stroke-width="1" fill="none"/>
</g>
<use href="#tg" transform="translate(2049.2 0) scale(-1 1)"/>

<g>
 <!-- shield base white -->
 <path d="M999.6 66 H1050.6 V86 C1050.6 96 1042 105 1025.1 112.6 C1008.2 105 999.6 96 999.6 86 Z" fill="#fdfdfd" stroke="#9aa0a8" stroke-width=".6"/>
 <!-- green band right (Malacca/ Sarawak area) -->
 <path d="M1042.4 79 H1050.6 V86 C1050.6 92 1047.4 97.6 1041.6 102.6 Z" fill="#1b9a3c"/>
 <!-- left lower panel penang -->
 <rect x="999.6" y="66.5" width="7.8" height="12" fill="#dfeaf2"/>
 <rect x="999.6" y="78.5" width="7.8" height="4" fill="#e8c92a"/>
 <rect x="999.6" y="82.5" width="7.8" height="5.5" fill="#8ec7e6"/>
 <path d="M1001.6 70 h3.6 M1001.6 73 h3.6 M1002.4 76 h2" stroke="#3c7f5c" stroke-width="1" fill="none"/>
 <!-- right panel: tree -->
 <rect x="1042.4" y="66.5" width="8.2" height="12.5" fill="#fff"/>
 <circle cx="1046.5" cy="71" r="3.1" fill="#18963a"/><circle cx="1044.6" cy="73.4" r="2" fill="#18963a"/><circle cx="1048.4" cy="73.4" r="2" fill="#18963a"/>
 <rect x="1046" y="74" width="1" height="4" fill="#18963a"/>
 <!-- four colour stripes -->
 <rect x="1007.4" y="66" width="8.8" height="22" fill="#e8202a"/>
 <rect x="1016.2" y="66" width="8.6" height="22" fill="#141414"/>
 <rect x="1024.8" y="66" width="8.6" height="22" fill="#fafafa"/>
 <rect x="1033.4" y="66" width="9" height="22" fill="#f4e21c"/>
 <!-- red chief -->
 <rect x="998.2" y="50.6" width="53.2" height="15.8" fill="#ec1f27"/>
 <g stroke="#f7d51d" stroke-width="1.1" stroke-linecap="round" fill="none">
  <path d="M1007 53.5 c-1 2 .8 3 0 5 v6 M1015.8 53.5 c-1 2 .8 3 0 5 v6 M1024.6 53.5 c-1 2 .8 3 0 5 v6 M1033.4 53.5 c-1 2 .8 3 0 5 v6 M1042.2 53.5 c-1 2 .8 3 0 5 v6"/>
 </g>
 <!-- lower emblems -->
 <path d="M1016.4 88 V106.8 M1033.6 88 V106.6 M999.6 88 H1050.6" stroke="#b9bec5" stroke-width=".5" fill="none"/>
 <path d="M1008 95.4 c1.4 -2.6 3.8 -2.6 5 0 c.8 1.8 .2 4 -2.4 4.6 c-2.8 -.4 -3.4 -2.8 -2.6 -4.6z" fill="#2f9bd6"/>
 <path d="M1010.6 91.4 l.9 2 h-1.8z" fill="#d8242a"/>
 <path d="M1025 92.4 c1.6 -1.6 3.6 -.6 3.4 1.4 c1.8 .4 2 2.6 .4 3.4 c.6 1.8 -1.2 3 -2.8 2 c-.6 1.8 -2.8 1.8 -3.4 0 c-1.6 .8 -3.2 -.6 -2.4 -2.2 c-1.6 -.8 -1.4 -3 .4 -3.4 c-.2 -2 2.6 -2.8 4.400 -1.200z" fill="#dd1f2b"/>
 <path d="M1025 100 v5" stroke="#dd1f2b" stroke-width=".8"/>
 <path d="M1035.6 93 l1.800 3 l1.8 -2.6 l1.8 2.6 l1.800 -3 l-1 5.600 h-5.200z" fill="#4a4a42"/>
 <path d="M1036.6 99.400 h5.200 l-2.600 3.600z" fill="#8a8a80"/>
</g>

<g>
 <!-- ribbon -->
 <path d="M958 100.6 C959.6 99.4 961.4 100 962.6 101.4 C968 106 976 106.6 984 104.6 C989 103.4 994.4 104.6 996.6 108.6 C997.8 111 997.4 113.600 995.6 115.400
          C1000 117.600 1012 119.800 1024.6 119.800 C1037.200 119.800 1049.200 117.600 1053.600 115.400 C1051.800 113.600 1051.400 111 1052.600 108.600 C1054.800 104.600 1060.200 103.400 1065.200 104.600 C1073.200 106.600 1081.200 106 1086.600 101.400 C1087.800 100 1089.600 99.400 1091.200 100.600
          C1090.400 106 1086.600 110.600 1080.600 113 C1074.600 115.400 1066.600 115.600 1060.600 114.600 C1061.200 118 1060.200 122 1056.600 124.600 C1050 129 1037.200 130.600 1024.600 130.600 C1012 130.600 999.200 129 992.600 124.600 C989 122 988 118 988.600 114.600 C982.600 115.600 974.600 115.400 968.600 113 C962.600 110.600 958.800 106 958 100.600 Z" fill="#f6e319" stroke="#c9a800" stroke-width=".5"/>
 <path d="M988.6 114.6 C990.6 112.600 993.600 112.800 995.600 115.400 M1060.600 114.600 C1058.600 112.600 1055.600 112.800 1053.600 115.400" fill="none" stroke="#a88c00" stroke-width=".7"/>
 <defs>
  <path id="rb1" d="M970.6 111.400 C976 112.800 984 112.400 991.600 110"/>
  <path id="rb2" d="M997.600 125.600 C1008 127.800 1020 128.200 1034 127.600"/>
  <path id="rb3" d="M1034.600 127.600 C1042 127.200 1050 126.200 1055.600 124"/>
  <path id="rb4" d="M1059.600 110.400 C1066 112.200 1074 112.400 1080.600 110.400"/>
 </defs>
 <g font-family="'Liberation Sans',sans-serif" font-weight="700" font-style="italic" fill="#3a3200">
  <text font-size="3.6"><textPath href="#rb1" textLength="20" lengthAdjust="spacingAndGlyphs">BERSEKUTU</textPath></text>
  <text font-size="3.8"><textPath href="#rb2" textLength="35" lengthAdjust="spacingAndGlyphs">BERTAMBAH MUTU</textPath></text>
 </g>
 <g font-family="'DejaVu Sans',sans-serif" fill="#3a3200">
  <text font-size="4.4" direction="rtl" unicode-bidi="bidi-override"><textPath href="#rb3" startOffset="100%" text-anchor="start">برتمبه موتو</textPath></text>
  <text font-size="4.4" direction="rtl"><textPath href="#rb4" startOffset="100%" text-anchor="start">برسكوتو</textPath></text>
 </g>
</g>
</svg>
<div id="txt" class="abs">
<h1 style="margin:0;font-weight:400;font-size:32px"><span><span class="t " style="left:208.78px;top:30.00px;font-size:32px;transform:scaleX(0.9141);color:#000;-webkit-text-stroke:0.70px #000;">SARINGAN</span> <span class="t " style="left:366.34px;top:30.00px;font-size:32px;transform:scaleX(0.9199);color:#000;-webkit-text-stroke:0.70px #000;">COVID-19</span> <span class="t " style="left:509.39px;top:30.00px;font-size:32px;transform:scaleX(0.8963);color:#000;-webkit-text-stroke:0.70px #000;">PUSAT</span> <span class="t " style="left:607.52px;top:30.00px;font-size:32px;transform:scaleX(0.8616);color:#000;-webkit-text-stroke:0.70px #000;">JAGAAN</span> <span class="t " style="left:725.13px;top:30.00px;font-size:32px;transform:scaleX(0.8746);color:#000;-webkit-text-stroke:0.70px #000;">WARGA</span> <span class="t " style="left:836.79px;top:30.00px;font-size:32px;transform:scaleX(0.9318);color:#000;-webkit-text-stroke:0.70px #000;">EMAS</span></span> <span><span class="t " style="left:456.60px;top:70.00px;font-size:32px;transform:scaleX(1.0992);color:#000;-webkit-text-stroke:0.70px #000;">28</span> <span class="t " style="left:504.05px;top:70.00px;font-size:32px;transform:scaleX(0.8699);color:#000;-webkit-text-stroke:0.70px #000;">OGOS</span> <span class="t " style="left:594.69px;top:70.00px;font-size:32px;transform:scaleX(1.1080);color:#000;-webkit-text-stroke:0.70px #000;">2020</span></span></h1>
<div><span><span class="t " style="left:204.57px;top:187.00px;font-size:27.5px;transform:scaleX(0.8575);color:#fff;font-weight:700;">JUMLAH</span> <span class="t " style="left:309.73px;top:187.00px;font-size:27.5px;transform:scaleX(0.8683);color:#fff;font-weight:700;">PUSAT</span> <span class="t " style="left:397.08px;top:187.00px;font-size:27.5px;transform:scaleX(0.8352);color:#fff;font-weight:700;">JAGAAN</span> <span class="t " style="left:501.25px;top:187.00px;font-size:27.5px;transform:scaleX(0.9091);color:#fff;font-weight:700;">WARGA</span> <span class="t " style="left:602.21px;top:187.00px;font-size:27.5px;transform:scaleX(0.8795);color:#fff;font-weight:700;">EMAS</span> <span class="t " style="left:679.69px;top:187.00px;font-size:27.5px;transform:scaleX(0.8912);color:#fff;font-weight:700;">DISARING</span></span> <span><span class="t " style="left:910.12px;top:188.00px;font-size:26.6px;transform:scaleX(1.1671);color:#fff;-webkit-text-stroke:0.40px #fff;">432</span></span></div>
<div><span><span class="t " style="left:222.55px;top:270.00px;font-size:27px;transform:scaleX(0.9025);color:#0b1838;font-weight:700;">JUMLAH</span> <span class="t " style="left:328.39px;top:270.00px;font-size:27px;transform:scaleX(0.9209);color:#0b1838;font-weight:700;">PENGHUNI</span> <span class="t " style="left:465.50px;top:270.00px;font-size:27px;transform:skewX(-15.4deg);color:#0b1838;font-weight:700;">/</span> <span class="t " style="left:482.25px;top:270.00px;font-size:27px;transform:scaleX(0.8594);color:#0b1838;font-weight:700;">PENJAGA</span> <span class="t " style="left:599.00px;top:270.00px;font-size:27px;transform:skewX(-15.4deg);color:#0b1838;font-weight:700;">/</span> <span class="t " style="left:624.71px;top:270.00px;font-size:27px;transform:scaleX(0.8807);color:#0b1838;font-weight:700;">KAKITANGAN</span></span> <span><span class="t " style="left:889.93px;top:270.00px;font-size:26.4px;transform:scaleX(1.1477);color:#0b1838;-webkit-text-stroke:0.45px #0b1838;">18,268</span></span></div>
<div><span><span class="t " style="left:323.30px;top:353.00px;font-size:27px;transform:scaleX(0.9070);color:#0b1838;font-weight:700;">JUMLAH</span> <span class="t " style="left:429.64px;top:353.00px;font-size:27px;transform:scaleX(0.9205);color:#0b1838;font-weight:700;">DIAMBIL</span> <span class="t " style="left:536.32px;top:353.00px;font-size:27px;transform:scaleX(0.9054);color:#0b1838;font-weight:700;">SAMPEL</span> <span class="t " style="left:641.81px;top:353.00px;font-size:27px;transform:scaleX(0.9494);color:#0b1838;font-weight:700;">(%)</span></span> <span><span class="t " style="left:838.66px;top:353.00px;font-size:26.4px;transform:scaleX(1.1582);color:#0b1838;-webkit-text-stroke:0.45px #0b1838;">16,425</span> <span class="t " style="left:934.62px;top:353.00px;font-size:26.4px;transform:scaleX(1.0624);color:#0b1838;-webkit-text-stroke:0.45px #0b1838;">(89.9%)</span></span></div>
<div><span><span class="t " style="left:353.30px;top:427.00px;font-size:27px;transform:scaleX(0.9070);color:#0b1838;font-weight:700;">JUMLAH</span> <span class="t " style="left:459.63px;top:427.00px;font-size:27px;transform:scaleX(0.9242);color:#0b1838;font-weight:700;">KES</span> <span class="t " style="left:515.43px;top:427.00px;font-size:27px;transform:scaleX(0.8973);color:#0b1838;font-weight:700;">POSITIF</span> <span class="t " style="left:613.34px;top:427.00px;font-size:27px;transform:scaleX(0.9304);color:#0b1838;font-weight:700;">(%)</span></span> <span><span class="t " style="left:876.68px;top:427.00px;font-size:26.4px;transform:scaleX(1.0927);color:#0b1838;-webkit-text-stroke:0.45px #0b1838;">47</span> <span class="t " style="left:915.39px;top:427.00px;font-size:26.4px;transform:scaleX(1.0512);color:#0b1838;-webkit-text-stroke:0.45px #0b1838;">(0.3%)</span></span></div>
<div><span><span class="t " style="left:409.76px;top:493.00px;font-size:27px;transform:scaleX(0.8537);color:#0b1838;font-weight:700;">BERGEJALA</span> <span class="t " style="left:555.06px;top:493.00px;font-size:27px;transform:scaleX(0.9494);color:#0b1838;font-weight:700;">(%)</span></span> <span><span class="t " style="left:870.68px;top:493.00px;font-size:26.4px;transform:scaleX(1.2701);color:#0b1838;-webkit-text-stroke:0.45px #0b1838;">11</span> <span class="t " style="left:910.87px;top:493.00px;font-size:26.4px;transform:scaleX(1.0624);color:#0b1838;-webkit-text-stroke:0.45px #0b1838;">(23.4%)</span></span></div>
<div><span><span class="t " style="left:371.52px;top:558.00px;font-size:27px;transform:scaleX(0.9085);color:#0b1838;font-weight:700;">TIDAK</span> <span class="t " style="left:450.26px;top:558.00px;font-size:27px;transform:scaleX(0.8506);color:#0b1838;font-weight:700;">BERGEJALA</span> <span class="t " style="left:595.08px;top:558.00px;font-size:27px;transform:scaleX(0.9367);color:#0b1838;font-weight:700;">(%)</span></span> <span><span class="t " style="left:866.55px;top:558.00px;font-size:26.4px;transform:scaleX(1.1761);color:#0b1838;-webkit-text-stroke:0.45px #0b1838;">36</span> <span class="t " style="left:906.35px;top:558.00px;font-size:26.4px;transform:scaleX(1.0708);color:#0b1838;-webkit-text-stroke:0.45px #0b1838;">(76.6%)</span></span></div>

<p style="margin:0"><span class="t " style="left:194.09px;top:649.00px;font-size:20.2px;transform:scaleX(1.0471);color:#0a0a0a;-webkit-text-stroke:0.35px #0a0a0a;font-style:italic;">Nota:</span> <span class="t " style="left:251.71px;top:649.00px;font-size:20.2px;transform:scaleX(1.0677);color:#0a0a0a;-webkit-text-stroke:0.35px #0a0a0a;font-style:italic;">Tiada</span> <span class="t " style="left:311.69px;top:649.00px;font-size:20.2px;transform:scaleX(1.0266);color:#0a0a0a;-webkit-text-stroke:0.35px #0a0a0a;font-style:italic;">pertambahan</span> <span class="t " style="left:442.41px;top:649.00px;font-size:20.2px;transform:scaleX(1.0455);color:#0a0a0a;-webkit-text-stroke:0.35px #0a0a0a;font-style:italic;">kes</span> <span class="t " style="left:481.41px;top:649.00px;font-size:20.2px;transform:scaleX(1.0498);color:#0a0a0a;-webkit-text-stroke:0.35px #0a0a0a;font-style:italic;">baharu</span></p>
<div><span class="t " style="left:933.82px;top:133.00px;font-size:10.6px;transform:scaleX(0.9087);color:#111;font-weight:700;">KEMENTERIAN KESIHATAN MALAYSIA</span></div>
<span class="t " style="left:1088.87px;top:592.00px;font-size:21px;transform:scaleX(1.1282);color:#f5f5f5;">8</span>
</div>
</body>
</html>
